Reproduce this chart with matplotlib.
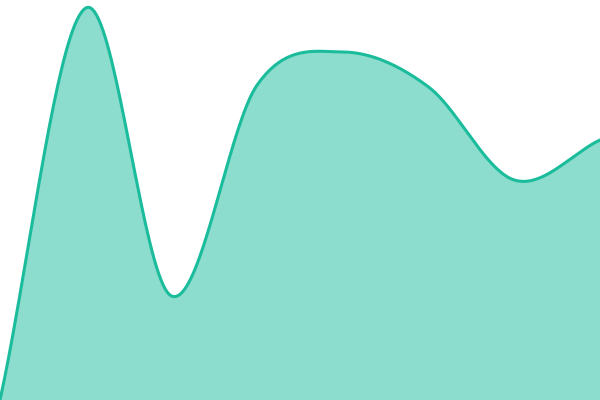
import matplotlib
matplotlib.use('Agg')
import matplotlib.pyplot as plt
import numpy as np

# data points (evenly spaced categories)
positions = [0, 1, 2, 3, 4, 5, 6, 7]
values = [0, 392, 104, 315, 348, 313, 220, 260]


def catmull_rom(xs, ys, n=40):
    xs = np.asarray(xs, float)
    ys = np.asarray(ys, float)
    px = np.concatenate([[2 * xs[0] - xs[1]], xs, [2 * xs[-1] - xs[-2]]])
    py = np.concatenate([[2 * ys[0] - ys[1]], ys, [2 * ys[-1] - ys[-2]]])
    out_x, out_y = [], []
    for i in range(1, len(px) - 2):
        t = np.linspace(0, 1, n, endpoint=False)
        for arr, out in ((px, out_x), (py, out_y)):
            p0, p1, p2, p3 = arr[i - 1], arr[i], arr[i + 1], arr[i + 2]
            out.extend(0.5 * (2 * p1 + (-p0 + p2) * t
                              + (2 * p0 - 5 * p1 + 4 * p2 - p3) * t ** 2
                              + (-p0 + 3 * p1 - 3 * p2 + p3) * t ** 3))
    out_x.append(xs[-1])
    out_y.append(ys[-1])
    return np.array(out_x), np.array(out_y)


sx, sy = catmull_rom(positions, values)

fig = plt.figure(figsize=(6, 4), dpi=100)
ax = fig.add_axes([0, 0, 1, 1])
ax.fill_between(sx, sy, 0, color='#1abc9c', alpha=0.5, linewidth=0)
ax.plot(sx, sy, color='#1abc9c', linewidth=2.2, solid_capstyle='round')
ax.set_xlim(positions[0], positions[-1])
ax.set_ylim(0, 400)
ax.axis('off')

fig.savefig('out.png', dpi=100)
